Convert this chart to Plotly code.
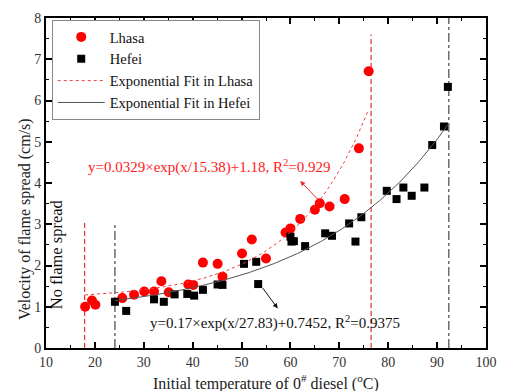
import numpy as np
import plotly.graph_objects as go

# ---- data ----
lhasa_x = [18.0, 19.4, 20.1, 25.6, 28.0, 30.1, 32.1, 33.6, 35.1, 39.1, 40.1, 42.1, 45.1, 46.1,
           50.1, 52.1, 55.0, 59.0, 60.0, 62.0, 65.0, 66.0, 68.0, 71.1, 74.0, 76.0]
lhasa_y = [1.00, 1.15, 1.05, 1.21, 1.29, 1.37, 1.37, 1.62, 1.35, 1.54, 1.53, 2.07, 2.04, 1.73,
           2.29, 2.63, 2.17, 2.80, 2.90, 3.13, 3.35, 3.51, 3.43, 3.61, 4.84, 6.71]

hefei_x = [24.1, 26.4, 32.1, 34.1, 36.3, 38.9, 40.3, 42.1, 45.1, 46.1, 50.5, 53.0, 53.4,
           60.0, 60.2, 60.7, 63.0, 67.1, 68.5, 72.0, 73.3, 74.5, 79.7, 81.7, 83.1, 84.8,
           87.4, 89.0, 91.4, 92.2]
hefei_y = [1.12, 0.90, 1.18, 1.12, 1.30, 1.31, 1.27, 1.41, 1.54, 1.53, 2.04, 2.09, 1.55,
           2.70, 2.58, 2.59, 2.47, 2.78, 2.72, 3.02, 2.58, 3.17, 3.81, 3.61, 3.89, 3.69,
           3.89, 4.92, 5.37, 6.33]

# exponential fit parameters shown on the chart: y = a*exp(x/b)+c
lhasa_fit = (0.0329, 15.38, 1.18)
hefei_fit = (0.17, 27.83, 0.7452)
lhasa_fit_range = (18.0, 76.0)
hefei_fit_range = (24.1, 92.2)

# boundary temperatures (vertical reference lines)
lhasa_bounds_x = [17.9, 76.5]
lhasa_bounds_top = [3.05, 7.6]
hefei_bounds_x = [24.1, 92.4]
hefei_bounds_top = [3.05, 8.0]

x_ticks = [10, 20, 30, 40, 50, 60, 70, 80, 90, 100]
y_ticks = [0, 1, 2, 3, 4, 5, 6, 7, 8]

SERIF = "Liberation Serif"

def fit_curve(params, rng):
    a, b, c = params
    xs = np.linspace(rng[0], rng[1], 200)
    return xs, a * np.exp(xs / b) + c

fig = go.Figure()

# vertical boundary lines
for xv, yt in zip(lhasa_bounds_x, lhasa_bounds_top):
    fig.add_trace(go.Scatter(x=[xv, xv], y=[0, yt], mode="lines", showlegend=False,
                             line=dict(color="#e8302a", width=1.2, dash="5px,3px"),
                             hoverinfo="skip"))
for xv, yt in zip(hefei_bounds_x, hefei_bounds_top):
    fig.add_trace(go.Scatter(x=[xv, xv], y=[0, yt], mode="lines", showlegend=False,
                             line=dict(color="#444444", width=1.2, dash="dashdot"),
                             hoverinfo="skip"))

fig.add_trace(go.Scatter(x=lhasa_x, y=lhasa_y, mode="markers", name="Lhasa",
                         marker=dict(symbol="circle", size=10, color="#ff0000")))
fig.add_trace(go.Scatter(x=hefei_x, y=hefei_y, mode="markers", name="Hefei",
                         marker=dict(symbol="square", size=8, color="#000000")))

lx, ly = fit_curve(lhasa_fit, lhasa_fit_range)
fig.add_trace(go.Scatter(x=lx, y=ly, mode="lines", name="Exponential Fit in Lhasa",
                         line=dict(color="#f04040", width=1, dash="dot")))
hx, hy = fit_curve(hefei_fit, hefei_fit_range)
fig.add_trace(go.Scatter(x=hx, y=hy, mode="lines", name="Exponential Fit in Hefei",
                         line=dict(color="#555555", width=1)))

annotations = [
    dict(x=43.3, y=4.39, xref="x", yref="y", showarrow=False,
         text="y=0.0329×exp(x/15.38)+1.18, R<sup>2</sup>=0.929",
         font=dict(family=SERIF, size=15, color="#ff1a1a")),
    dict(x=56.9, y=0.63, xref="x", yref="y", showarrow=False,
         text="y=0.17×exp(x/27.83)+0.7452, R<sup>2</sup>=0.9375",
         font=dict(family=SERIF, size=15, color="#111111")),
    # arrow red: from curve to text
    dict(x=62.0, y=4.05, ax=66.1, ay=3.54, xref="x", yref="y", axref="x", ayref="y",
         text="", showarrow=True, arrowhead=2, arrowsize=1, arrowwidth=1,
         arrowcolor="#e83030", standoff=0, startstandoff=0),
    # arrow black: from point to text
    dict(x=57.4, y=0.96, ax=54.1, ay=1.49, xref="x", yref="y", axref="x", ayref="y",
         text="", showarrow=True, arrowhead=2, arrowsize=1, arrowwidth=1,
         arrowcolor="#111111", standoff=0, startstandoff=0),
    dict(x=12.3, y=2.28, xref="x", yref="y", showarrow=False, textangle=-90,
         text="No flame spread", font=dict(family=SERIF, size=16.5, color="#111111")),
    dict(x=-0.049, y=0.392, xref="paper", yref="paper", showarrow=False, textangle=-90,
         xanchor="center", yanchor="middle",
         text="Velocity of flame spread (cm/s)", font=dict(family=SERIF, size=16, color="#222222")),
    dict(x=0.5, y=-0.106, xref="paper", yref="paper", showarrow=False,
         xanchor="center", yanchor="middle",
         text="Initial temperature of 0<sup>#</sup> diesel (<sup>o</sup>C)",
         font=dict(family=SERIF, size=16, color="#222222")),
]

axis_common = dict(showline=True, linecolor="black", linewidth=2, mirror="allticks",
                   ticks="inside", ticklen=6, tickwidth=1.5, tickcolor="black",
                   showgrid=False, zeroline=False,
                   tickfont=dict(family=SERIF, size=14, color="#333333"))

fig.update_layout(
    width=507, height=391,
    margin=dict(l=46, r=10, t=18, b=43),
    paper_bgcolor="white", plot_bgcolor="white",
    showlegend=True,
    legend=dict(x=0.013, y=0.994, xanchor="left", yanchor="top",
                bgcolor="white", bordercolor="#888888", borderwidth=1,
                font=dict(family=SERIF, size=14.5, color="#111111"),
                tracegroupgap=0, itemwidth=47),
    annotations=annotations,
    xaxis=dict(range=[10, 100], tickvals=x_ticks, ticktext=[str(v) for v in x_ticks],
               minor=dict(ticks="inside", ticklen=3, tickwidth=1.2, tickcolor="black", dtick=5),
               **axis_common),
    yaxis=dict(range=[0, 8], tickvals=y_ticks, ticktext=[str(v) for v in y_ticks],
               minor=dict(ticks="inside", ticklen=3, tickwidth=1.2, tickcolor="black", dtick=0.5),
               **axis_common),
)

fig.write_html("out.html", config={"displayModeBar": False},
               post_script="document.body.style.margin='0';")
